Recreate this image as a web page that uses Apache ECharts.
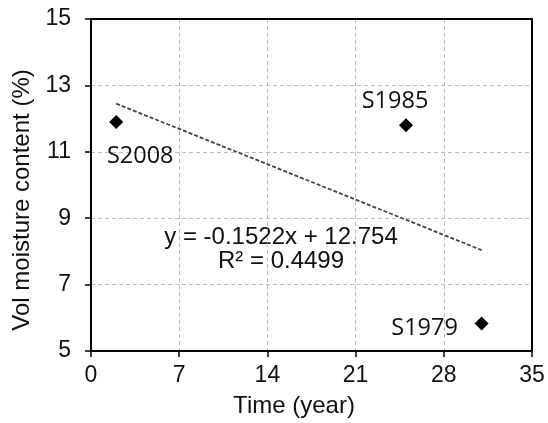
<!DOCTYPE html>
<html><head><meta charset="utf-8">
<script src="https://cdn.jsdelivr.net/npm/echarts@6/dist/echarts.min.js"></script>
<style>html,body{margin:0;padding:0;background:#fff}#c{width:548px;height:423px}</style>
</head><body><div id="c"></div>
<script>
const siteNames = ['S2008', 'S1985', 'S1979'];
const timeYears = [2, 25, 31];
const moisture = [11.9, 11.8, 5.83];
const trendX = [2, 31];
const trendY = [12.45, 8.04];
const xTitle = 'Time (year)';
const yTitle = 'Vol moisture content (%)';
const equationText = 'y = -0.1522x + 12.754';
const r2Text = 'R² = 0.4499';
const labelOffsets = [[24, 34], [-11, -24], [-57, 5]];

const chart = echarts.init(document.getElementById('c'));
const axisFont = { fontFamily: 'Liberation Sans', fontSize: 23, color: '#111' };
const labelFont = { fontFamily: 'Open Sans', fontSize: 23.5, color: '#111' };
const gridOpt = { left: 91, top: 19, width: 441, height: 332 };
const frameAxis = {
  axisLine: { show: true, onZero: false, lineStyle: { color: '#000', width: 2 } },
  axisTick: { show: false }, axisLabel: { show: false }, splitLine: { show: false }
};
const textStyle = (t, size) => ({ text: t, fontFamily: 'Liberation Sans', fontSize: size, fill: '#111', align: 'center', verticalAlign: 'middle' });
chart.setOption({
  animation: false,
  grid: gridOpt,
  xAxis: [{
    type: 'value', min: 0, max: 35, interval: 7,
    axisLine: { show: true, onZero: false, lineStyle: { color: '#000', width: 2 } },
    axisTick: { show: true, length: 6, lineStyle: { color: '#000', width: 1.5 } },
    axisLabel: { ...axisFont, margin: 13 },
    splitLine: { show: true, lineStyle: { type: [4, 3], color: '#bdbdbd', width: 1 } }
  }, { type: 'value', min: 0, max: 35, position: 'top', ...frameAxis }],
  yAxis: [{
    type: 'value', min: 5, max: 15, interval: 2,
    axisLine: { show: true, onZero: false, lineStyle: { color: '#000', width: 2 } },
    axisTick: { show: true, length: 6, lineStyle: { color: '#000', width: 1.5 } },
    axisLabel: { ...axisFont, margin: 20 },
    splitLine: { show: true, lineStyle: { type: [4, 3], color: '#bdbdbd', width: 1 } }
  }, { type: 'value', min: 5, max: 15, position: 'right', ...frameAxis }],
  series: [
    {
      type: 'line',
      data: trendX.map((x, i) => [x, trendY[i]]),
      showSymbol: false, symbol: 'none',
      lineStyle: { color: '#444', width: 1.8, type: [4, 2] },
      z: 2
    },
    {
      type: 'scatter',
      symbol: 'diamond', symbolSize: 14,
      itemStyle: { color: '#000', opacity: 1 },
      data: timeYears.map((x, i) => ({
        value: [x, moisture[i]],
        label: {
          show: true, formatter: siteNames[i], position: 'inside',
          offset: labelOffsets[i], ...labelFont
        }
      })),
      z: 3
    }
  ],
  graphic: [
    { type: 'text', x: 281, y: 237, style: textStyle(equationText, 24) },
    { type: 'text', x: 281, y: 261, style: textStyle(r2Text, 24) },
    { type: 'text', x: 294, y: 406, style: textStyle(xTitle, 24) },
    { type: 'text', x: 22, y: 200, rotation: Math.PI / 2, style: textStyle(yTitle, 24) }
  ]
});
</script></body></html>
